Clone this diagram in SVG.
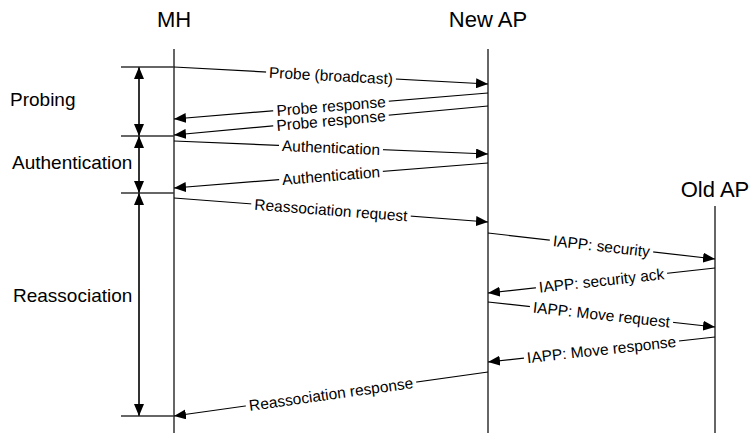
<svg xmlns="http://www.w3.org/2000/svg" width="752" height="433" viewBox="0 0 752 433">
<style>
  .title { font-family: "Liberation Sans", Arial, sans-serif; font-size: 22px; fill: #000; text-anchor: middle; }
  .phase { font-family: "Liberation Sans", Arial, sans-serif; font-size: 19px; fill: #000; }
  .lbl { font-family: "Liberation Sans", Arial, sans-serif; font-size: 15.5px; fill: #000; text-anchor: middle; }
  .life { stroke: #333; stroke-width: 1.5; fill: none; }
  .msg { stroke: #000; stroke-width: 1.2; fill: none; marker-end: url(#ah); }
  .tick { stroke: #333; stroke-width: 1.5; fill: none; }
  .span { stroke: #333; stroke-width: 2; fill: none; marker-start: url(#vh); marker-end: url(#vh); }
  .bg { fill: #fff; }
</style>
<defs>
  <marker id="ah" markerUnits="userSpaceOnUse" markerWidth="12" markerHeight="10" refX="12" refY="5" orient="auto">
    <path d="M0,0 L12,5 L0,10 z" fill="#000"/>
  </marker>
  <marker id="vh" markerUnits="userSpaceOnUse" markerWidth="12" markerHeight="10" refX="12" refY="5" orient="auto-start-reverse">
    <path d="M0,0 L12,5 L0,10 z" fill="#000"/>
  </marker>
</defs>

<g id="MH">
  <text class="title" x="174" y="27">MH</text>
  <line class="life" x1="174" y1="49" x2="174" y2="433"/>
</g>
<g id="NewAP">
  <text class="title" x="488" y="27">New AP</text>
  <line class="life" x1="488" y1="49" x2="488" y2="433"/>
</g>
<g id="OldAP">
  <text class="title" x="715" y="197">Old AP</text>
  <line class="life" x1="715" y1="206" x2="715" y2="433"/>
</g>

<g id="phases">
  <line class="tick" x1="121" y1="67" x2="174" y2="67"/>
  <line class="tick" x1="121" y1="136" x2="174" y2="136"/>
  <line class="tick" x1="121" y1="193" x2="174" y2="193"/>
  <line class="tick" x1="121" y1="416" x2="174" y2="416"/>
  <line class="span" x1="139" y1="67" x2="139" y2="136"/>
  <line class="span" x1="139" y1="136" x2="139" y2="193"/>
  <line class="span" x1="139" y1="193" x2="139" y2="416"/>
  <text class="phase" x="10" y="106">Probing</text>
  <text class="phase" x="12" y="169">Authentication</text>
  <text class="phase" x="13" y="302">Reassociation</text>
</g>

<g id="connectors">
  <line class="msg" x1="174" y1="67" x2="488" y2="84"/>
  <line class="msg" x1="488" y1="93" x2="174" y2="119"/>
  <line class="msg" x1="488" y1="106" x2="174" y2="135"/>
  <line class="msg" x1="174" y1="141" x2="488" y2="154"/>
  <line class="msg" x1="488" y1="163" x2="174" y2="188"/>
  <line class="msg" x1="174" y1="198" x2="488" y2="222"/>
  <line class="msg" x1="488" y1="233" x2="715" y2="259"/>
  <line class="msg" x1="715" y1="268" x2="488" y2="293"/>
  <line class="msg" x1="488" y1="302" x2="715" y2="327"/>
  <line class="msg" x1="715" y1="337" x2="488" y2="362"/>
  <line class="msg" x1="488" y1="372" x2="174" y2="416"/>

  <g transform="translate(331,75.5) rotate(3.10)"><rect class="bg" x="-65" y="-4" width="130" height="8"/><text class="lbl" y="5.5">Probe (broadcast)</text></g>
  <g transform="translate(331,106) rotate(-4.73)"><rect class="bg" x="-58" y="-4" width="116" height="8"/><text class="lbl" y="5.5">Probe response</text></g>
  <g transform="translate(331,120.5) rotate(-5.28)"><rect class="bg" x="-58" y="-4" width="116" height="8"/><text class="lbl" y="5.5">Probe response</text></g>
  <g transform="translate(331,147.5) rotate(2.37)"><rect class="bg" x="-52" y="-4" width="104" height="8"/><text class="lbl" y="5.5">Authentication</text></g>
  <g transform="translate(331,175.5) rotate(-4.55)"><rect class="bg" x="-52" y="-4" width="104" height="8"/><text class="lbl" y="5.5">Authentication</text></g>
  <g transform="translate(331,210) rotate(4.37)"><rect class="bg" x="-80" y="-4" width="160" height="8"/><text class="lbl" y="5.5">Reassociation request</text></g>
  <g transform="translate(601.5,246) rotate(6.53)"><rect class="bg" x="-52" y="-4" width="104" height="8"/><text class="lbl" y="5.5">IAPP: security</text></g>
  <g transform="translate(601.5,280.5) rotate(-6.28)"><rect class="bg" x="-66" y="-4" width="132" height="8"/><text class="lbl" y="5.5">IAPP: security ack</text></g>
  <g transform="translate(601.5,314.5) rotate(6.28)"><rect class="bg" x="-72" y="-4" width="144" height="8"/><text class="lbl" y="5.5">IAPP: Move request</text></g>
  <g transform="translate(601.5,349.5) rotate(-6.28)"><rect class="bg" x="-78" y="-4" width="156" height="8"/><text class="lbl" y="5.5">IAPP: Move response</text></g>
  <g transform="translate(331,394) rotate(-7.98)"><rect class="bg" x="-86" y="-4" width="172" height="8"/><text class="lbl" y="5.5">Reassociation response</text></g>
</g>
</svg>
